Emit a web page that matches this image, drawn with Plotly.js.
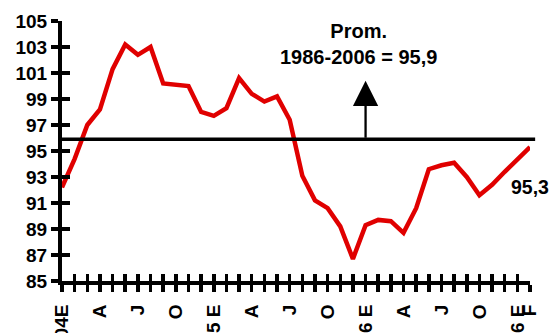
<!DOCTYPE html>
<html>
<head>
<meta charset="utf-8">
<script src="https://cdn.plot.ly/plotly-3.0.1.min.js"></script>
<style>
  html, body { margin: 0; padding: 0; background: #ffffff; }
  #chart { width: 554px; height: 333px; }
</style>
</head>
<body>
<div id="chart"></div>
<script>
// Monthly real index, January 2004 to February 2007
const months = [
  '2004-01','2004-02','2004-03','2004-04','2004-05','2004-06','2004-07','2004-08','2004-09','2004-10','2004-11','2004-12',
  '2005-01','2005-02','2005-03','2005-04','2005-05','2005-06','2005-07','2005-08','2005-09','2005-10','2005-11','2005-12',
  '2006-01','2006-02','2006-03','2006-04','2006-05','2006-06','2006-07','2006-08','2006-09','2006-10','2006-11','2006-12',
  '2007-01','2007-02'
];

const monthLabels = [
  '04E','','','A','','','J','','','O','','',
  '05 E','','','A','','','J','','','O','','',
  '06 E','','','A','','','J','','','O','','',
  '06 E','F'
];

const indexValues = [
  92.2, 94.4, 97.0, 98.2, 101.3, 103.2, 102.4, 103.0, 100.2, 100.1, 100.0, 98.0,
  97.7, 98.3, 100.6, 99.4, 98.8, 99.2, 97.4, 93.1, 91.2, 90.6, 89.2, 86.7,
  89.3, 89.7, 89.6, 88.7, 90.6, 93.6, 93.9, 94.1, 93.0, 91.6, 92.4, 93.4,
  94.3, 95.3
];

const yTicks = [85, 87, 89, 91, 93, 95, 97, 99, 101, 103, 105];

const averageValue = 95.9;
const averageText = 'Prom.<br>1986-2006 = 95,9';
const lastValueText = '95,3';
const arrowTop = 100.4;

// position of each month along the axis
const monthPos = months.map((m, i) => i);
const lastPos = monthPos[monthPos.length - 1];

const FONT = 'Liberation Sans, Arial, Helvetica, sans-serif';
const tickFont = { family: FONT, size: 19, color: '#000', weight: 700 };

const traces = [
  {
    x: monthPos,
    y: indexValues,
    type: 'scatter',
    mode: 'lines',
    line: { color: '#e00000', width: 4.5 },
    hoverinfo: 'skip',
    xaxis: 'x',
    yaxis: 'y'
  },
  // same series on the overlay axes, which carry the inner halves of the ticks
  {
    x: monthPos,
    y: indexValues,
    type: 'scatter',
    mode: 'markers',
    marker: { opacity: 0, size: 1 },
    hoverinfo: 'skip',
    xaxis: 'x2',
    yaxis: 'y2'
  }
];

const baseX = {
  range: [0, lastPos],
  tickmode: 'array',
  tickvals: monthPos,
  showgrid: false,
  zeroline: false,
  fixedrange: true
};
const baseY = {
  range: [yTicks[0], yTicks[yTicks.length - 1]],
  tickmode: 'array',
  tickvals: yTicks,
  showgrid: false,
  zeroline: false,
  fixedrange: true
};

const layout = {
  width: 554,
  height: 333,
  margin: { l: 62, r: 24, t: 21, b: 52 },
  paper_bgcolor: '#ffffff',
  plot_bgcolor: '#ffffff',
  showlegend: false,
  xaxis: Object.assign({}, baseX, {
    ticktext: monthLabels,
    tickangle: -90,
    tickfont: tickFont,
    ticklabelstandoff: 5,
    ticks: 'outside',
    ticklen: 7,
    tickwidth: 3.5,
    tickcolor: '#000',
    showline: true,
    linewidth: 4,
    linecolor: '#000',
    anchor: 'y'
  }),
  yaxis: Object.assign({}, baseY, {
    tickfont: tickFont,
    ticks: 'outside',
    ticklen: 7,
    tickwidth: 3.5,
    tickcolor: '#000',
    showline: true,
    linewidth: 4,
    linecolor: '#000',
    anchor: 'x'
  }),
  xaxis2: Object.assign({}, baseX, {
    overlaying: 'x',
    anchor: 'y2',
    side: 'bottom',
    showticklabels: false,
    ticks: 'inside',
    ticklen: 7,
    tickwidth: 3.5,
    tickcolor: '#000',
    showline: false
  }),
  yaxis2: Object.assign({}, baseY, {
    overlaying: 'y',
    anchor: 'x2',
    side: 'left',
    showticklabels: false,
    ticks: 'inside',
    ticklen: 8,
    tickwidth: 3.5,
    tickcolor: '#000',
    showline: false
  }),
  shapes: [
    {
      type: 'line',
      xref: 'paper',
      yref: 'y',
      x0: 0,
      x1: 1.011,
      y0: averageValue,
      y1: averageValue,
      line: { color: '#000', width: 3.5 }
    }
  ],
  annotations: [
    {
      xref: 'x', yref: 'y',
      x: 24, y: arrowTop,
      axref: 'x', ayref: 'y',
      ax: 24, ay: averageValue,
      text: '',
      showarrow: true,
      arrowhead: 2,
      arrowsize: 2.2,
      arrowwidth: 2.3,
      arrowcolor: '#000',
      standoff: 0,
      startstandoff: 0
    },
    {
      xref: 'x', yref: 'y',
      x: 23.45, y: 103.25,
      text: averageText,
      showarrow: false,
      xanchor: 'center',
      yanchor: 'middle',
      align: 'center',
      font: { family: FONT, size: 20, color: '#000', weight: 700 }
    },
    {
      xref: 'paper', yref: 'y',
      x: 0.956, y: 92.26,
      text: lastValueText,
      showarrow: false,
      xanchor: 'left',
      yanchor: 'middle',
      font: { family: FONT, size: 19.5, color: '#000', weight: 700 }
    }
  ]
};

Plotly.newPlot('chart', traces, layout, { displayModeBar: false, staticPlot: true });
</script>
</body>
</html>
